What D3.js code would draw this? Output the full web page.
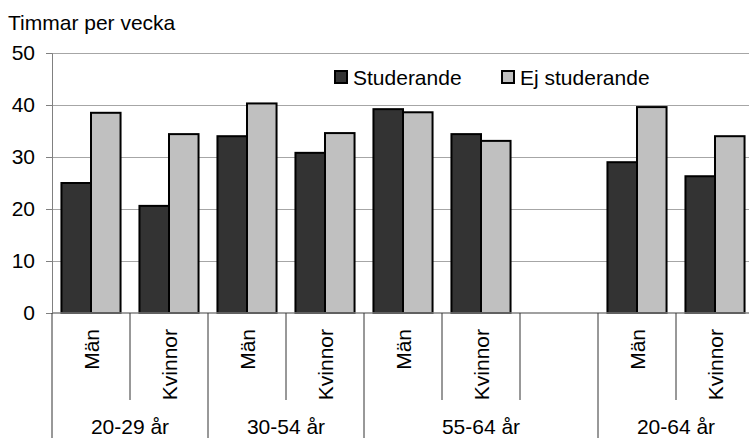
<!DOCTYPE html>
<html>
<head>
<meta charset="utf-8">
<script src="https://cdn.jsdelivr.net/npm/d3@7"></script>
<style>
  html, body { margin: 0; padding: 0; background: #fff; }
  svg { display: block; font-family: "Liberation Sans", Arial, sans-serif; }
</style>
</head>
<body>
<svg id="chart" width="749" height="438"></svg>
<script>
const groups = ["20-29 år", "30-54 år", "55-64 år", "20-64 år"];
const slotLabels = ["Män", "Kvinnor", "Män", "Kvinnor", "Män", "Kvinnor", "", "Män", "Kvinnor"];
const slotGroup = [0, 0, 1, 1, 2, 2, 2, 3, 3];
const studerande = [25.0, 20.6, 34.0, 30.8, 39.2, 34.4, null, 29.0, 26.3];
const ejStuderande = [38.5, 34.4, 40.3, 34.6, 38.6, 33.1, null, 39.6, 34.0];
const seriesNames = ["Studerande", "Ej studerande"];
const seriesColors = ["#333333", "#c0c0c0"];
const yTicks = [0, 10, 20, 30, 40, 50];

(function () {
const svg = d3.select("#chart");
const mLeft = 52, mTop = 53, mBottom = 313, slotW = 78, fs = 21;
const slots = d3.range(slotLabels.length);

const x = d3.scaleBand().domain(slots).range([mLeft, mLeft + slotW * slots.length]).padding(0);
const xs = d3.scaleBand().domain([0, 1]).range([0, x.bandwidth()]).paddingInner(0).paddingOuter(0.32);
const y = d3.scaleLinear().domain([0, 50]).range([mBottom, mTop]);

// title
svg.append("text").attr("x", 8).attr("y", 30).attr("font-size", fs).attr("fill", "#000")
  .text("Timmar per vecka");

// gridlines
svg.append("g").selectAll("line").data(yTicks.slice(1)).join("line")
  .attr("x1", mLeft).attr("x2", 749).attr("y1", d => y(d)).attr("y2", d => y(d))
  .attr("stroke", "#a6a6a6").attr("stroke-width", 1).attr("shape-rendering", "crispEdges");

// legend
const legX = [335, 502];
seriesNames.forEach((n, i) => {
  svg.append("rect").attr("x", legX[i]).attr("y", 71).attr("width", 12).attr("height", 12)
    .attr("fill", seriesColors[i]).attr("stroke", "#000").attr("stroke-width", 2);
  svg.append("text").attr("x", legX[i] + 18).attr("y", 85).attr("font-size", fs).text(n);
});

// bars
const seriesData = [studerande, ejStuderande];
seriesData.forEach((vals, si) => {
  svg.append("g").selectAll("rect").data(slots.filter(s => vals[s] != null)).join("rect")
    .attr("x", s => x(s) + xs(si))
    .attr("width", xs.bandwidth())
    .attr("y", s => y(vals[s]))
    .attr("height", s => y(0) - y(vals[s]))
    .attr("fill", seriesColors[si])
    .attr("stroke", "#000").attr("stroke-width", 2);
});

// y axis
const yAxis = d3.axisLeft(y).tickValues(yTicks).tickSize(6).tickPadding(11);
const gy = svg.append("g").attr("transform", `translate(${mLeft},0)`).call(yAxis);
gy.select(".domain").attr("stroke", "#808080");
gy.selectAll(".tick line").attr("stroke", "#808080");
gy.selectAll(".tick text").attr("font-size", fs).attr("font-family", "Liberation Sans, Arial, sans-serif").attr("fill", "#000");

// x axis baseline
svg.append("line").attr("x1", mLeft).attr("x2", 749).attr("y1", mBottom).attr("y2", mBottom)
  .attr("stroke", "#808080").attr("stroke-width", 1.5);

// category divider lines
const bounds = d3.range(slots.length + 1);
svg.append("g").selectAll("line").data(bounds).join("line")
  .attr("x1", b => mLeft + b * slotW).attr("x2", b => mLeft + b * slotW)
  .attr("y1", mBottom)
  .attr("y2", b => (b === 0 || b === slots.length || slotGroup[b] !== slotGroup[b - 1]) ? 438 : 400)
  .attr("stroke", "#333").attr("stroke-width", 1);

// slot labels (rotated)
svg.append("g").selectAll("text").data(slots.filter(s => slotLabels[s])).join("text")
  .attr("transform", s => `translate(${x(s) + x.bandwidth() / 2 + 7.5},329) rotate(-90)`)
  .attr("text-anchor", "end").attr("font-size", fs).text(s => slotLabels[s]);

// group labels
groups.forEach((g, gi) => {
  const ss = slots.filter(s => slotGroup[s] === gi);
  const cx = (x(ss[0]) + x(ss[ss.length - 1]) + x.bandwidth()) / 2;
  svg.append("text").attr("x", cx).attr("y", 434).attr("text-anchor", "middle")
    .attr("font-size", fs).text(g);
});
})();
</script>
</body>
</html>
